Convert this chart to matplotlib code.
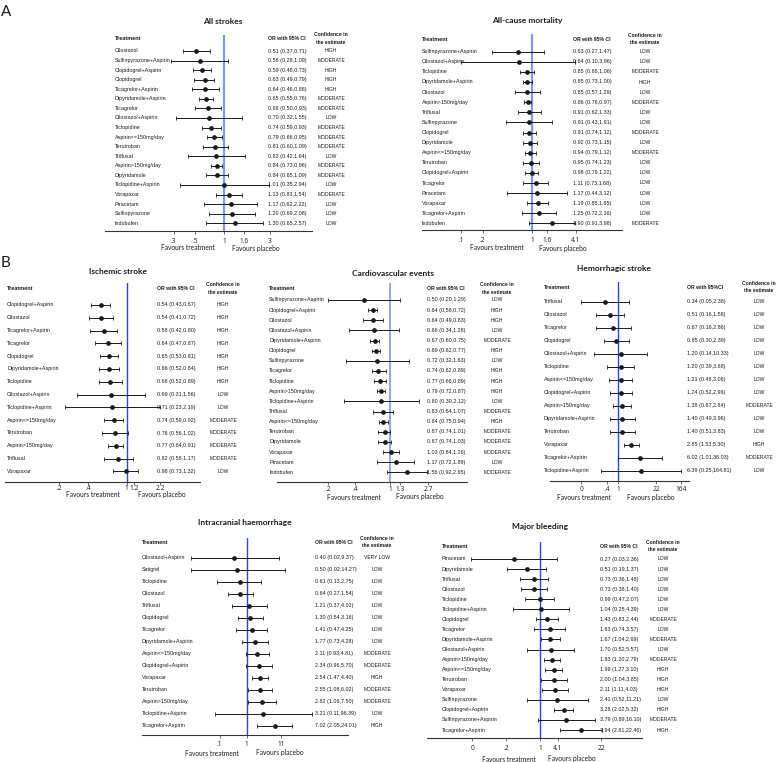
import matplotlib
matplotlib.use("Agg")
import matplotlib.pyplot as plt
from matplotlib.transforms import blended_transform_factory

W, H = 778, 762

# === All strokes ===
strokes_names = ["Cilostazol", "Sulfinpyrazone+Aspirin", "Clopidogrel+Aspirin", "Clopidogrel",
                 "Ticagrelor+Aspirin", "Dipyridamole+Aspirin", "Ticagrelor", "Cilostazol+Aspirin",
                 "Ticlopidine", "Aspirin<=150mg/day", "Terutroban", "Triflusal", "Aspirin>150mg/day",
                 "Dipyridamole", "Ticlopidine+Aspirin", "Vorapaxar", "Piracetam", "Sulfinpyrazone",
                 "Indobufen"]
strokes_or = [0.51, 0.56, 0.59, 0.63, 0.64, 0.65, 0.68, 0.70, 0.74, 0.79, 0.81, 0.83, 0.84, 0.84,
              1.01, 1.13, 1.17, 1.20, 1.30]
strokes_lo = [0.37, 0.28, 0.48, 0.49, 0.46, 0.55, 0.50, 0.32, 0.59, 0.66, 0.60, 0.42, 0.73, 0.65,
              0.35, 0.83, 0.62, 0.69, 0.65]
strokes_hi = [0.71, 1.09, 0.73, 0.79, 0.88, 0.76, 0.93, 1.55, 0.93, 0.95, 1.09, 1.64, 0.96, 1.09,
              2.94, 1.54, 2.22, 2.08, 2.57]
strokes_conf = ["HIGH", "MODERATE", "HIGH", "HIGH", "HIGH", "MODERATE", "MODERATE", "LOW", "MODERATE",
                "MODERATE", "MODERATE", "LOW", "MODERATE", "MODERATE", "LOW", "MODERATE", "LOW", "LOW",
                "LOW"]

# === All-cause mortality ===
mort_names = ["Sulfinpyrazone+Aspirin", "Cilostazol+Aspirin", "Ticlopidine", "Dipyridamole+Aspirin",
              "Cilostazol", "Aspirin>150mg/day", "Triflusal", "Sulfinpyrazone", "Clopidogrel",
              "Dipyridamole", "Aspirin<=150mg/day", "Terutroban", "Clopidogrel+Aspirin", "Ticagrelor",
              "Piracetam", "Vorapaxar", "Ticagrelor+Aspirin", "Indobufen"]
mort_or = [0.63, 0.64, 0.85, 0.85, 0.85, 0.86, 0.91, 0.91, 0.91, 0.92, 0.94, 0.95, 0.98, 1.11,
           1.17, 1.19, 1.25, 1.90]
mort_lo = [0.27, 0.10, 0.68, 0.73, 0.57, 0.76, 0.62, 0.43, 0.74, 0.73, 0.79, 0.74, 0.79, 0.73,
           0.44, 0.85, 0.72, 0.91]
mort_hi = [1.47, 3.96, 1.06, 1.00, 1.29, 0.97, 1.33, 1.91, 1.12, 1.15, 1.12, 1.23, 1.22, 1.68,
           3.12, 1.65, 2.16, 3.98]
mort_conf = ["LOW", "LOW", "MODERATE", "HIGH", "LOW", "MODERATE", "LOW", "LOW", "MODERATE", "LOW",
             "MODERATE", "LOW", "LOW", "LOW", "LOW", "LOW", "LOW", "MODERATE"]

# === Ischemic stroke ===
isch_names = ["Clopidogrel+Aspirin", "Cilostazol", "Ticagrelor+Aspirin", "Ticagrelor", "Clopidogrel",
              "Dipyridamole+Aspirin", "Ticlopidine", "Cilostazol+Aspirin", "Ticlopidine+Aspirin",
              "Aspirin<=150mg/day", "Terutroban", "Aspirin>150mg/day", "Triflusal", "Vorapaxar"]
isch_or = [0.54, 0.54, 0.58, 0.64, 0.65, 0.66, 0.68, 0.69, 0.71, 0.74, 0.76, 0.77, 0.82, 0.98]
isch_lo = [0.43, 0.41, 0.42, 0.47, 0.53, 0.52, 0.52, 0.31, 0.23, 0.59, 0.56, 0.64, 0.58, 0.73]
isch_hi = [0.67, 0.72, 0.80, 0.87, 0.81, 0.84, 0.89, 1.56, 2.19, 0.92, 1.02, 0.91, 1.17, 1.32]
isch_conf = ["HIGH", "HIGH", "HIGH", "HIGH", "HIGH", "HIGH", "HIGH", "LOW", "LOW", "MODERATE",
             "MODERATE", "MODERATE", "MODERATE", "LOW"]

# === Cardiovascular events ===
cv_names = ["Sulfinpyrazone+Aspirin", "Clopidogrel+Aspirin", "Cilostazol", "Cilostazol+Aspirin",
            "Dipyridamole+Aspirin", "Clopidogrel", "Sulfinpyrazone", "Ticagrelor", "Ticlopidine",
            "Aspirin>150mg/day", "Ticlopidine+Aspirin", "Triflusal", "Aspirin<=150mg/day", "Terutroban",
            "Dipyridamole", "Vorapaxar", "Piracetam", "Indobufen"]
cv_or = [0.50, 0.64, 0.64, 0.66, 0.67, 0.69, 0.72, 0.74, 0.77, 0.79, 0.80, 0.83, 0.84, 0.87, 0.87,
         1.03, 1.17, 1.56]
cv_lo = [0.20, 0.56, 0.49, 0.34, 0.60, 0.62, 0.32, 0.62, 0.66, 0.72, 0.30, 0.64, 0.75, 0.74, 0.74,
         0.84, 0.72, 0.92]
cv_hi = [1.29, 0.72, 0.83, 1.28, 0.75, 0.77, 1.63, 0.89, 0.89, 0.87, 2.12, 1.07, 0.94, 1.01, 1.03,
         1.26, 1.89, 2.65]
cv_conf = ["LOW", "HIGH", "HIGH", "LOW", "MODERATE", "HIGH", "LOW", "HIGH", "HIGH", "HIGH", "LOW",
           "MODERATE", "HIGH", "MODERATE", "MODERATE", "MODERATE", "LOW", "MODERATE"]

# === Hemorrhagic stroke ===
hem_names = ["Triflusal", "Cilostazol", "Ticagrelor", "Clopidogrel", "Cilostazol+Aspirin", "Ticlopidine",
             "Aspirin<=150mg/day", "Clopidogrel+Aspirin", "Aspirin>150mg/day", "Dipyridamole+Aspirin",
             "Terutroban", "Vorapaxar", "Ticagrelor+Aspirin", "Ticlopidine+Aspirin"]
hem_or = [0.34, 0.51, 0.67, 0.85, 1.20, 1.20, 1.21, 1.24, 1.38, 1.40, 1.40, 2.85, 6.02, 6.39]
hem_lo = [0.05, 0.16, 0.16, 0.30, 0.14, 0.39, 0.48, 0.52, 0.67, 0.49, 0.51, 1.53, 1.01, 0.25]
hem_hi = [2.38, 1.58, 2.86, 2.39, 10.33, 3.68, 3.06, 2.96, 2.84, 3.96, 3.83, 5.30, 36.03, 164.81]
hem_conf = ["LOW", "LOW", "LOW", "LOW", "LOW", "LOW", "LOW", "LOW", "MODERATE", "LOW", "LOW", "HIGH",
            "MODERATE", "LOW"]

# === Intracranial haemorrhage ===
ich_names = ["Cilostazol+Aspirin", "Satigrel", "Ticlopidine", "Cilostazol", "Triflusal", "Clopidogrel",
             "Ticagrelor", "Dipyridamole+Aspirin", "Aspirin<=150mg/day", "Clopidogrel+Aspirin",
             "Vorapaxar", "Terutroban", "Aspirin>150mg/day", "Ticlopidine+Aspirin", "Ticagrelor+Aspirin"]
ich_or = [0.40, 0.50, 0.61, 0.64, 1.21, 1.30, 1.41, 1.77, 2.11, 2.34, 2.54, 2.55, 2.82, 3.21, 7.02]
ich_lo = [0.02, 0.02, 0.13, 0.27, 0.37, 0.54, 0.47, 0.73, 0.93, 0.96, 1.47, 1.08, 1.06, 0.11, 2.05]
ich_hi = [9.37, 14.27, 2.75, 1.54, 4.02, 3.16, 4.25, 4.28, 4.81, 5.70, 4.40, 6.02, 7.50, 96.39, 24.01]
ich_conf = ["VERY LOW", "LOW", "LOW", "LOW", "LOW", "LOW", "LOW", "LOW", "MODERATE", "MODERATE",
            "HIGH", "MODERATE", "MODERATE", "LOW", "HIGH"]

# === Major bleeding ===
bleed_names = ["Piracetam", "Dipyridamole", "Triflusal", "Cilostazol", "Ticlopidine",
               "Ticlopidine+Aspirin", "Clopidogrel", "Ticagrelor", "Dipyridamole+Aspirin",
               "Cilostazol+Aspirin", "Aspirin>150mg/day", "Aspirin<=150mg/day", "Terutroban", "Vorapaxar",
               "Sulfinpyrazone", "Clopidogrel+Aspirin", "Sulfinpyrazone+Aspirin", "Ticagrelor+Aspirin"]
bleed_or = [0.27, 0.51, 0.73, 0.73, 0.99, 1.04, 1.43, 1.63, 1.67, 1.70, 1.83, 1.99, 2.00, 2.11, 2.41,
            3.28, 3.79, 7.94]
bleed_lo = [0.03, 0.19, 0.36, 0.38, 0.47, 0.25, 0.83, 0.74, 1.04, 0.52, 1.20, 1.27, 1.04, 1.11, 0.52,
            2.02, 0.89, 2.81]
bleed_hi = [2.36, 1.37, 1.48, 1.40, 2.07, 4.39, 2.44, 3.57, 2.69, 5.57, 2.79, 3.10, 3.85, 4.03, 11.21,
            5.32, 16.10, 22.46]
bleed_conf = ["LOW", "LOW", "LOW", "LOW", "LOW", "LOW", "MODERATE", "LOW", "MODERATE", "LOW", "MODERATE",
              "HIGH", "HIGH", "HIGH", "LOW", "HIGH", "MODERATE", "HIGH"]

LABEL_FONT = "Liberation Sans"
TITLE_FONT = "Lato"
TICK_FONT = "Open Sans"
INK = "#1a1a1a"

# layout of each panel in pixel units (x0/x1 axis ends, xc = position of OR 1, ppd = px per decade)
panels = [
    dict(title="All strokes", names=strokes_names, orr=strokes_or, lo=strokes_lo, hi=strokes_hi,
         conf=strokes_conf, x0=105, x1=312, xc=224, ppd=96, ax_y=231, top=35, first=51, sp=9.57,
         name_x=115, or_x=268, conf_x=331, head_y=39, title_xy=(223, 21), or_head="OR with 95% CI",
         ticks=[0.3, 0.5, 1, 1.6, 3], tlabels=[".3", ".5", "1", "1.6", "3"],
         fav_y=248, fav_t=188, fav_p=256, blue="#7d98f2", blue_lw=1.6, pad=3),
    dict(title="All-cause mortality", names=mort_names, orr=mort_or, lo=mort_lo, hi=mort_hi,
         conf=mort_conf, x0=422, x1=622, xc=532.3, ppd=71, ax_y=230, top=34, first=51.7, sp=10.1,
         name_x=422, or_x=573, conf_x=645, head_y=39.5, title_xy=(527, 21), or_head="OR with 95% CI",
         ticks=[0.1, 0.2, 1, 1.6, 4.1], tlabels=[".1", ".2", "1", "1.6", "4.1"],
         fav_y=248, fav_t=497, fav_p=563, blue="#7d98f2", blue_lw=1.6, pad=3),
    dict(title="Ischemic stroke", names=isch_names, orr=isch_or, lo=isch_lo, hi=isch_hi,
         conf=isch_conf, x0=5, x1=200, xc=126.7, ppd=97, ax_y=481.5, top=283, first=305, sp=12.8,
         name_x=7, or_x=157, conf_x=223, head_y=289, title_xy=(118, 272), or_head="OR with 95% CI",
         ticks=[0.2, 0.4, 1, 1.2, 2.2], tlabels=[".2", ".4", "1", "1.2", "2.2"],
         fav_y=495, fav_t=93, fav_p=162, blue="#2a44f2", blue_lw=1.0, pad=0.8),
    dict(title="Cardiovascular events", names=cv_names, orr=cv_or, lo=cv_lo, hi=cv_hi,
         conf=cv_conf, x0=277, x1=467, xc=390, ppd=88, ax_y=481.7, top=283, first=300, sp=10.14,
         name_x=269, or_x=427, conf_x=497, head_y=289, title_xy=(393, 274), or_head="OR with 95% CI",
         ticks=[0.2, 0.4, 1, 1.3, 2.7], tlabels=[".2", ".4", "1", "1.3", "2.7"],
         fav_y=497, fav_t=354, fav_p=420, blue="#7d98f2", blue_lw=1.2, pad=0.8),
    dict(title="Hemorrhagic stroke", names=hem_names, orr=hem_or, lo=hem_lo, hi=hem_hi,
         conf=hem_conf, x0=550, x1=689, xc=618.3, ppd=28.3, ax_y=481, top=281.7, first=301.7, sp=13.0,
         name_x=544, or_x=687, conf_x=759, head_y=287.3, title_xy=(614, 268), or_head="OR with 95%CI",
         ticks=[0.05, 0.4, 1, 22, 164], tlabels=["0", ".4", "1", "22", "164"],
         fav_y=498, fav_t=584, fav_p=651, blue="#2a44f2", blue_lw=1.0, pad=1.5),
    dict(title="Intracranial haemorrhage", names=ich_names, orr=ich_or, lo=ich_lo, hi=ich_hi,
         conf=ich_conf, x0=142, x1=348, xc=246.7, ppd=33, ax_y=735, top=537.5, first=557.7, sp=12.0,
         name_x=142, or_x=315, conf_x=377, head_y=542.7, title_xy=(245, 523), or_head="OR with 95% CI",
         ticks=[0.15, 1, 11], tlabels=[".1", "1", "11"],
         fav_y=753, fav_t=212, fav_p=280, blue="#2a44f2", blue_lw=1.0, pad=2.5),
    dict(title="Major bleeding", names=bleed_names, orr=bleed_or, lo=bleed_lo, hi=bleed_hi,
         conf=bleed_conf, x0=427, x1=642, xc=540, ppd=45.6, ax_y=738.3, top=541.5, first=559, sp=10.06,
         name_x=442, or_x=600, conf_x=663, head_y=546.7, title_xy=(540, 526), or_head="OR with 95% CI",
         ticks=[0.033, 0.18, 1, 2.44, 22], tlabels=["0", ".2", "1", "4.1", "22"],
         fav_y=759, fav_t=509, fav_p=572, blue="#2a44f2", blue_lw=1.0, pad=2.5),
]


def fx(px):
    return px / W


def fy(py):
    return 1 - py / H


def draw_panel(fig, p):
    ax = fig.add_axes([fx(p["x0"]), fy(p["ax_y"]), (p["x1"] - p["x0"]) / W, (p["ax_y"] - p["top"]) / H])
    ax.set_xscale("log")
    ax.set_xlim(10 ** ((p["x0"] - p["xc"]) / p["ppd"]), 10 ** ((p["x1"] - p["xc"]) / p["ppd"]))
    ax.set_ylim((p["ax_y"] - p["first"]) / p["sp"], (p["top"] - p["first"]) / p["sp"])
    ax.patch.set_alpha(0)
    for s in ["top", "right", "left"]:
        ax.spines[s].set_visible(False)
    ax.spines["bottom"].set_linewidth(0.8)
    ax.spines["bottom"].set_color("#333333")
    ax.set_yticks([])
    ax.set_xticks(p["ticks"])
    ax.set_xticklabels(p["tlabels"], fontsize=4.8, family=TICK_FONT, color=INK)
    ax.tick_params(axis="x", length=2, width=0.5, pad=p["pad"], color="#333333")
    ax.minorticks_off()

    ax.axvline(1, color=p["blue"], lw=p["blue_lw"], zorder=1)

    idx = list(range(len(p["names"])))
    err_lo = [o - l for o, l in zip(p["orr"], p["lo"])]
    err_hi = [h - o for o, h in zip(p["orr"], p["hi"])]
    ax.errorbar(p["orr"], idx, xerr=[err_lo, err_hi], fmt="o", color=INK, ms=2.4,
                elinewidth=0.7, capsize=1.2, capthick=0.6, zorder=3)

    tr = blended_transform_factory(fig.transFigure, ax.transData)
    for i, (n, o, l, h, c) in enumerate(zip(p["names"], p["orr"], p["lo"], p["hi"], p["conf"])):
        ax.text(fx(p["name_x"]), i, n, transform=tr, ha="left", va="center",
                fontsize=3.9, family=LABEL_FONT, color=INK)
        ax.text(fx(p["or_x"]), i, f"{o:.2f} ({l:.2f},{h:.2f})", transform=tr, ha="left",
                va="center", fontsize=3.9, family=LABEL_FONT, color=INK)
        ax.text(fx(p["conf_x"]), i, c, transform=tr, ha="center", va="center",
                fontsize=3.6, family=LABEL_FONT, color=INK)

    # headers
    fig.text(fx(p["name_x"]), fy(p["head_y"]), "Treatment", ha="left", va="center",
             fontsize=4, weight="bold", family=LABEL_FONT, color=INK)
    fig.text(fx(p["or_x"]), fy(p["head_y"]), p["or_head"], ha="left", va="center",
             fontsize=3.7, weight="bold", family=LABEL_FONT, color=INK)
    fig.text(fx(p["conf_x"]), fy(p["head_y"] - 4), "Confidence in", ha="center", va="center",
             fontsize=3.6, weight="bold", family=LABEL_FONT, color=INK)
    fig.text(fx(p["conf_x"]), fy(p["head_y"] + 3), "the estimate", ha="center", va="center",
             fontsize=3.6, weight="bold", family=LABEL_FONT, color=INK)

    fig.text(fx(p["title_xy"][0]), fy(p["title_xy"][1]), p["title"], ha="center", va="center",
             fontsize=6, weight="bold", family=TITLE_FONT, color=INK)
    fig.text(fx(p["fav_t"]), fy(p["fav_y"]), "Favours treatment", ha="center", va="center",
             fontsize=4.8, family=TITLE_FONT, color=INK)
    fig.text(fx(p["fav_p"]), fy(p["fav_y"]), "Favours placebo", ha="center", va="center",
             fontsize=4.8, family=TITLE_FONT, color=INK)
    return ax


fig = plt.figure(figsize=(W / 100, H / 100), dpi=100)
fig.patch.set_facecolor("white")

for p in panels:
    draw_panel(fig, p)

fig.text(fx(1), fy(12), "A", ha="left", va="center", fontsize=11, family=TITLE_FONT, color=INK)
fig.text(fx(1), fy(263), "B", ha="left", va="center", fontsize=11, family=TITLE_FONT, color=INK)

fig.savefig("out.png", dpi=100)
